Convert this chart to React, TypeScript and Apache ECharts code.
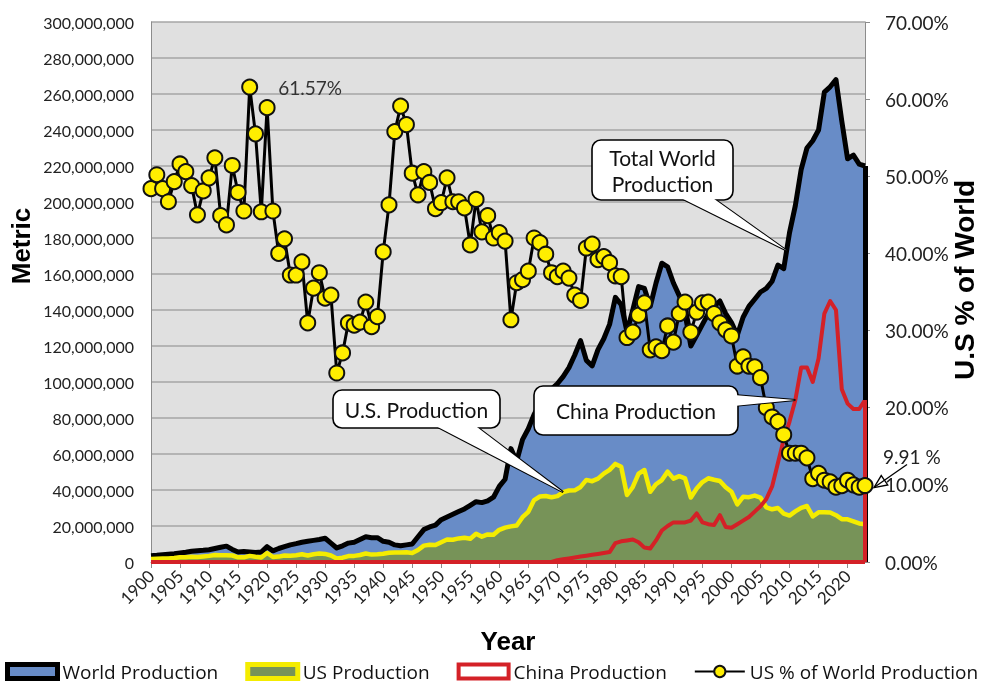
import React, { useEffect, useRef } from "react";
import * as echarts from "echarts";

// Categories: years 1900..2023
const years: string[] = Array.from({ length: 124 }, (_, i) => String(1900 + i));

// World production, million metric tons
const worldProduction: number[] = [
  3.5, 3.7, 4.0, 4.3, 4.6, 5.0, 5.4, 6.0, 6.3, 6.5,
  6.8, 7.5, 8.2, 8.8, 7.0, 5.5, 5.8, 5.6, 5.3, 5.5,
  8.5, 6.2, 7.5, 8.5, 9.5, 10.2, 11.0, 11.5, 12.0, 12.5,
  13.2, 10.5, 7.8, 9.0, 10.5, 11.0, 12.5, 14.0, 13.5, 13.5,
  11.5, 11.0, 9.5, 9.0, 9.5, 10.0, 14.0, 18.0, 19.5, 20.5,
  23.5, 25.0, 26.5, 28.0, 29.5, 31.5, 33.5, 33.0, 34.0, 36.0,
  42.0, 46.0, 63.0, 56.0, 68.0, 74.0, 82.0, 88.0, 92.0, 96.0,
  99.0, 103.0, 108.0, 115.0, 123.0, 112.0, 109.0, 118.0, 124.0, 132.0,
  147.0, 143.0, 128.0, 140.0, 153.0, 152.0, 142.0, 155.0, 166.0, 164.0,
  155.0, 148.0, 138.0, 120.0, 126.0, 132.0, 138.0, 142.0, 145.0, 138.0,
  133.0, 126.0, 136.0, 142.0, 146.0, 150.0, 152.0, 156.0, 165.0, 163.0,
  183.0, 198.0, 218.0, 230.0, 234.0, 240.0, 261.0, 264.0, 268.0, 245.0,
  224.0, 226.0, 221.0, 220.0,
];

// US production, million metric tons
const usProduction: number[] = [
  1.7, 1.8, 1.9, 2.0, 2.2, 2.6, 2.7, 2.9, 2.8, 3.1,
  3.4, 3.9, 3.7, 3.8, 3.6, 2.6, 2.6, 3.4, 2.9, 2.5,
  5.0, 2.8, 3.0, 3.6, 3.5, 3.8, 4.3, 3.6, 4.3, 4.7,
  4.5, 3.6, 1.9, 2.4, 3.3, 3.4, 3.9, 4.7, 4.1, 4.3,
  4.6, 5.1, 5.3, 5.3, 5.4, 5.0, 6.7, 9.1, 9.6, 9.4,
  11.0, 12.5, 12.4, 13.1, 13.5, 12.9, 15.7, 14.1, 15.3, 15.1,
  17.9, 19.1, 19.8, 20.3, 24.9, 27.9, 34.4, 36.4, 36.7, 36.0,
  36.6, 38.8, 39.7, 39.8, 41.7, 45.6, 44.9, 46.3, 49.1, 51.2,
  54.5, 52.9, 37.2, 41.7, 49.1, 51.1, 39.0, 43.2, 45.5, 50.2,
  46.3, 47.7, 46.5, 35.8, 40.8, 44.4, 46.5, 45.7, 45.0, 41.5,
  39.0, 32.0, 36.2, 36.0, 36.9, 35.8, 30.4, 29.3, 30.0, 26.9,
  25.8, 28.1, 30.1, 31.1, 25.3, 27.6, 27.7, 27.5, 26.0, 23.8,
  23.7, 22.6, 21.4, 21.0,
];

// China production, million metric tons
const chinaProduction: number[] = [
  0, 0, 0, 0, 0, 0, 0, 0, 0, 0,
  0, 0, 0, 0, 0, 0, 0, 0, 0, 0,
  0, 0, 0, 0, 0, 0, 0, 0, 0, 0,
  0, 0, 0, 0, 0, 0, 0, 0, 0, 0,
  0, 0, 0, 0, 0, 0, 0, 0, 0, 0,
  0, 0, 0, 0, 0, 0, 0, 0, 0, 0,
  0, 0, 0, 0, 0, 0, 0, 0, 0, 0,
  1.0, 1.5, 2.0, 2.5, 3.0, 3.5, 4.0, 4.5, 5.0, 5.5,
  10.5, 11.5, 12.0, 12.5, 11.0, 8.0, 7.5, 12.0, 17.5, 20.0,
  22.0, 22.0, 22.0, 23.0, 27.0, 22.0, 21.0, 20.5, 26.0, 19.5,
  19.0, 21.0, 23.0, 25.0, 28.0, 31.0, 35.0, 42.0, 55.0, 68.0,
  78.0, 90.0, 108.0, 108.0, 100.0, 113.0, 138.0, 145.0, 140.0, 96.0,
  88.0, 85.0, 85.0, 90.0,
];

// US share of world production, %
const usShareOfWorld: number[] = [
  48.4, 50.2, 48.4, 46.7, 49.3, 51.6, 50.6, 48.8, 45.0, 48.1,
  49.8, 52.4, 44.9, 43.7, 51.4, 47.9, 45.5, 61.57, 55.5, 45.4,
  58.9, 45.5, 40.0, 41.9, 37.2, 37.2, 38.9, 31.0, 35.5, 37.5,
  34.2, 34.6, 24.5, 27.1, 31.0, 30.7, 31.1, 33.7, 30.5, 31.8,
  40.2, 46.3, 55.8, 59.1, 56.7, 50.4, 47.6, 50.6, 49.2, 45.8,
  46.6, 49.8, 46.7, 46.7, 45.9, 41.1, 47.0, 42.8, 44.9, 42.0,
  42.7, 41.6, 31.4, 36.2, 36.6, 37.7, 42.0, 41.4, 39.9, 37.5,
  37.0, 37.7, 36.8, 34.6, 33.9, 40.7, 41.2, 39.2, 39.6, 38.8,
  37.1, 37.0, 29.1, 29.8, 32.0, 33.6, 27.5, 27.9, 27.4, 30.6,
  28.5, 32.2, 33.7, 29.8, 32.4, 33.6, 33.7, 32.2, 31.0, 30.1,
  29.3, 25.4, 26.6, 25.4, 25.3, 23.9, 20.0, 18.8, 18.2, 16.5,
  14.1, 14.1, 14.1, 13.5, 10.8, 11.5, 10.6, 10.4, 9.7, 9.9,
  10.6, 10.0, 9.7, 9.91,
];

const FONT = 'Lato, "Open Sans", sans-serif';
const LEGEND_FONT = '"Open Sans", Lato, sans-serif';
const BOLD = '"Liberation Sans", Arial, sans-serif';

function callout(
  x: number, y: number, w: number, h: number,
  side: "bottom" | "right", b0: number, b1: number,
  tip: number[], text: string, fontSize: number, lineHeight: number
): any[] {
  let base: number[][];
  if (side === "bottom") base = [[b0, y + h - 4], [b1, y + h - 4]];
  else base = [[x + w - 4, b0], [x + w - 4, b1]];
  const pts = [base[0], [tip[0], tip[1]], base[1]];
  return [
    { type: "polygon", z: 100, silent: true, shape: { points: pts }, style: { fill: "#fff", stroke: "#000", lineWidth: 2 } },
    { type: "rect", z: 101, silent: true, shape: { x, y, width: w, height: h, r: 9 }, style: { fill: "#fff", stroke: "#000", lineWidth: 1.6 } },
    { type: "polygon", z: 102, silent: true, shape: { points: pts }, style: { fill: "#fff" } },
    {
      type: "text", z: 103, silent: true, x: x + w / 2, y: y + h / 2,
      style: { text, align: "center", verticalAlign: "middle", fill: "#111", font: `${fontSize}px ${FONT}`, lineHeight },
    },
  ];
}

export default function App() {
  const ref = useRef<HTMLDivElement>(null);

  useEffect(() => {
    const el = ref.current!;
    const chart = echarts.init(el, undefined, { renderer: "svg" });
    const last = years.length - 1;
    const lastYear = years[last];
    const peakIdx = usShareOfWorld.indexOf(Math.max(...usShareOfWorld));

    const option: any = {
      animation: false,
      grid: { left: 151, right: 122, top: 22, bottom: 122, show: true, backgroundColor: "#e0e0e0", borderWidth: 0 },
      legend: {
        left: 5, top: 662, padding: 0, itemGap: 27, itemWidth: 50, itemHeight: 14,
        textStyle: { fontFamily: LEGEND_FONT, fontSize: 19, lineHeight: 19, color: "#111" },
        selectedMode: false,
        data: [
          { name: "World Production", icon: "rect", itemStyle: { color: "#688cc7", borderColor: "#000", borderWidth: 5 } },
          { name: "US Production", icon: "rect", itemStyle: { color: "#779358", borderColor: "#f4ec00", borderWidth: 5 } },
          { name: "China Production", icon: "rect", itemStyle: { color: "#fff", borderColor: "#d42127", borderWidth: 4 } },
          { name: "US % of World Production" },
        ],
      },
      xAxis: {
        type: "category", data: years, boundaryGap: false,
        axisLine: { lineStyle: { color: "#8c8c8c", width: 1 } },
        axisTick: { interval: 4, length: 6, lineStyle: { color: "#8c8c8c" } },
        axisLabel: { interval: 4, rotate: 45, margin: 11, fontFamily: FONT, fontSize: 17, color: "#222" },
        splitLine: { show: false },
      },
      yAxis: [
        {
          type: "value", min: 0, max: 300, interval: 20,
          axisLine: { show: true, lineStyle: { color: "#8c8c8c" } },
          axisTick: { show: false },
          axisLabel: {
            margin: 17, fontFamily: FONT, fontSize: 16, color: "#222",
            formatter: (v: number) => Math.round(v * 1e6).toLocaleString("en-US"),
          },
          splitLine: { show: true, lineStyle: { color: "#a6a6a6", width: 1.5 } },
        },
        {
          type: "value", min: 0, max: 70, interval: 10, position: "right",
          axisLine: { show: true, lineStyle: { color: "#8c8c8c" } },
          axisTick: { show: true, length: 5, lineStyle: { color: "#8c8c8c" } },
          axisLabel: { margin: 20, fontFamily: FONT, fontSize: 19, color: "#222", formatter: (v: number) => v.toFixed(2) + "%" },
          splitLine: { show: false },
        },
      ],
      series: [
        {
          name: "World Production", type: "line", data: worldProduction, symbol: "none", showSymbol: false, silent: true,
          lineStyle: { color: "#000", width: 5, join: "round" }, itemStyle: { color: "#000" },
          areaStyle: { color: "#688cc7", opacity: 1 },
          markLine: {
            silent: true, symbol: ["none", "none"], label: { show: false },
            lineStyle: { color: "#000", width: 5, type: "solid" },
            data: [[{ coord: [lastYear, 0] }, { coord: [lastYear, worldProduction[last]] }]],
          },
        },
        {
          name: "US Production", type: "line", data: usProduction, symbol: "none", showSymbol: false, silent: true,
          lineStyle: { color: "#f4ec00", width: 4.5, join: "round" }, itemStyle: { color: "#f4ec00" },
          areaStyle: { color: "#779358", opacity: 1 },
        },
        {
          name: "China Production", type: "line", data: chinaProduction, symbol: "none", showSymbol: false, silent: true,
          lineStyle: { color: "#d42127", width: 4, join: "round" }, itemStyle: { color: "#d42127" },
          markLine: {
            silent: true, symbol: ["none", "none"], label: { show: false },
            lineStyle: { color: "#d42127", width: 4, type: "solid" },
            data: [
              { yAxis: 0 },
              [{ coord: [lastYear, 0] }, { coord: [lastYear, chinaProduction[last]] }],
            ],
          },
        },
        {
          name: "US % of World Production", type: "line", yAxisIndex: 1, silent: true,
          data: usShareOfWorld.map((v, i) =>
            i === peakIdx
              ? { value: v, label: { show: true, position: "right", distance: 20, formatter: "{c}%", fontFamily: FONT, fontSize: 19, color: "#333" } }
              : v
          ),
          symbol: "circle", symbolSize: 15, showAllSymbol: true, z: 5,
          lineStyle: { color: "#000", width: 3 },
          itemStyle: { color: "#ffee00", borderColor: "#111", borderWidth: 2 },
        },
      ],
    };
    chart.setOption(option);

    const px = (s: number, i: number, v: number) => chart.convertToPixel({ seriesIndex: s }, [i, v]) as number[];
    const wA = px(0, 109, worldProduction[109]);
    const wB = px(0, 110, worldProduction[110]);
    const worldTip = [(wA[0] + wB[0]) / 2, (wA[1] + wB[1]) / 2];
    const usTip = px(1, 71, usProduction[71]);
    const chTip = px(2, 111, chinaProduction[111]);
    const dot = px(3, last, usShareOfWorld[last]);

    const head = [dot[0] + 9, dot[1] + 2];
    const tail = [dot[0] + 42, dot[1] - 21];
    const dx = tail[0] - head[0], dy = tail[1] - head[1];
    const len = Math.hypot(dx, dy);
    const ux = dx / len, uy = dy / len;
    const L = 14, ang = 0.42;
    const rot = (a: number) => [head[0] + L * (ux * Math.cos(a) - uy * Math.sin(a)), head[1] + L * (ux * Math.sin(a) + uy * Math.cos(a))];
    const a1 = rot(ang), a2 = rot(-ang);

    const elements: any[] = [
      ...callout(592, 140, 141, 60, "bottom", 677, 710, worldTip, "Total World\nProduction", 21, 26),
      ...callout(333, 390, 167, 38, "bottom", 432, 473, usTip, "U.S. Production", 21, 26),
      ...callout(534, 386, 204, 49, "right", 395, 406, chTip, "China Production", 21, 26),
      { type: "line", z: 110, silent: true, shape: { x1: tail[0], y1: tail[1], x2: head[0], y2: head[1] }, style: { stroke: "#000", lineWidth: 1.3 } },
      { type: "polygon", z: 110, silent: true, shape: { points: [head, a1, a2] }, style: { fill: "none", stroke: "#000", lineWidth: 1.3 } },
      {
        type: "text", z: 110, silent: true, x: dot[0] + 18, y: dot[1] - 29,
        style: { text: "9.91 %", align: "left", verticalAlign: "middle", fill: "#222", font: `19px ${FONT}` },
      },
      {
        type: "text", z: 110, silent: true, x: 21, y: 246, rotation: Math.PI / 2,
        style: { text: "Metric", align: "center", verticalAlign: "middle", fill: "#000", font: `bold 26px ${BOLD}` },
      },
      {
        type: "text", z: 110, silent: true, x: 964, y: 280, rotation: Math.PI / 2,
        style: { text: "U.S % of World", align: "center", verticalAlign: "middle", fill: "#000", font: `bold 28px ${BOLD}` },
      },
      {
        type: "text", z: 110, silent: true, x: 508, y: 641,
        style: { text: "Year", align: "center", verticalAlign: "middle", fill: "#000", font: `bold 26px ${BOLD}` },
      },
    ];
    chart.setOption({ graphic: { elements } });

    return () => chart.dispose();
  }, []);

  return <div ref={ref} style={{ position: "fixed", left: 0, top: 0, width: 987, height: 684 }} />;
}
